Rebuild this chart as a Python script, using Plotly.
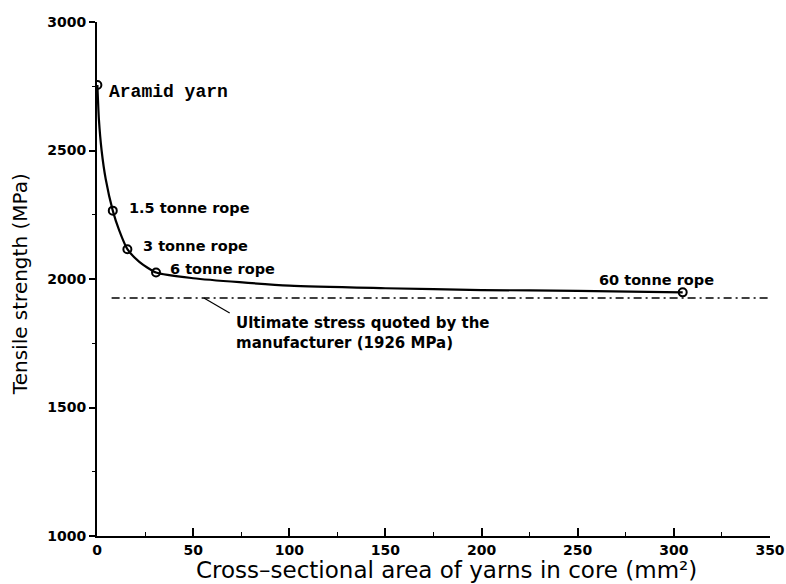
import plotly.graph_objects as go

# Tensile strength against core cross-sectional area
curve_area = [0.2, 1.0, 2.4, 4.5, 8.2, 11.5, 15.8, 22, 30.7, 50, 100, 150, 200, 250, 304.6]
curve_strength = [2755, 2620, 2500, 2390, 2266, 2190, 2116, 2067, 2025, 2003, 1974, 1964, 1957, 1954, 1948]

point_names = ["Aramid yarn", "1.5 tonne rope", "3 tonne rope", "6 tonne rope", "60 tonne rope"]
point_area = [0.2, 8.2, 15.8, 30.7, 304.6]
point_strength = [2755, 2266, 2116, 2025, 1948]

ultimate_stress = 1926
ultimate_span = [7.6, 352.4]

x_ticks = [0, 50, 100, 150, 200, 250, 300, 350]
y_ticks = [1000, 1500, 2000, 2500, 3000]

SANS = "DejaVu Sans"
MONO = "Liberation Mono"

fig = go.Figure()

fig.add_trace(go.Scatter(
    x=curve_area, y=curve_strength, mode="lines",
    line=dict(color="black", width=2.2, shape="spline", smoothing=0.6),
    hoverinfo="skip", showlegend=False,
))

fig.add_trace(go.Scatter(
    x=ultimate_span, y=[ultimate_stress, ultimate_stress], mode="lines",
    line=dict(color="black", width=1.6, dash="8px,4px,2px,4px"),
    showlegend=False,
))

fig.add_trace(go.Scatter(
    x=point_area, y=point_strength, mode="markers",
    marker=dict(symbol="circle-open", size=8, color="black", line=dict(width=2)),
    showlegend=False,
))

# point labels: (x shift, y shift downward) in pixels
label_offsets = {
    "Aramid yarn": (10, 7),
    "1.5 tonne rope": (14, -3),
    "3 tonne rope": (14, -3),
    "6 tonne rope": (12, -4),
    "60 tonne rope": (-86, -12),
}
for name, xa, ya in zip(point_names, point_area, point_strength):
    dx, dy = label_offsets[name]
    is_mono = name == "Aramid yarn"
    fig.add_annotation(
        x=xa, y=ya, text=name, showarrow=False,
        xanchor="left", yanchor="middle", xshift=dx, yshift=-dy,
        font=dict(family=MONO if is_mono else SANS,
                  size=18 if is_mono else 14.5,
                  color="black", weight="bold"),
    )

# ultimate stress note with leader
fig.add_shape(type="line", x0=55.6, y0=ultimate_stress, x1=69.0, y1=1868,
              line=dict(color="black", width=1.2))
fig.add_annotation(
    x=71.5, y=1870, text="Ultimate stress quoted by the<br>manufacturer (1926 MPa)",
    showarrow=False, xanchor="left", yanchor="top", align="left",
    font=dict(family=SANS, size=15, color="black", weight="bold"),
)

# axis titles
fig.add_annotation(
    xref="paper", yref="paper", x=0.5186, y=-0.066,
    text="Cross\u2013sectional area of yarns in core (mm\u00b2)",
    showarrow=False, xanchor="center", yanchor="middle",
    font=dict(family=SANS, size=23, color="black"),
)
fig.add_annotation(
    xref="paper", yref="paper", x=-0.1144, y=0.49,
    text="Tensile strength (MPa)", textangle=-90,
    showarrow=False, xanchor="center", yanchor="middle",
    font=dict(family=SANS, size=20, color="black"),
)

fig.update_layout(
    width=786, height=584,
    margin=dict(l=97, r=16, t=22, b=48),
    paper_bgcolor="white", plot_bgcolor="white",
    showlegend=False,
)

fig.update_xaxes(
    range=[0, 350], tickvals=x_ticks, showgrid=False, zeroline=False,
    automargin=False,
    showline=True, linecolor="black", linewidth=2,
    ticks="inside", ticklen=8, tickwidth=1.5, tickcolor="black",
    minor=dict(dtick=25, ticks="inside", ticklen=4, tickwidth=1, tickcolor="black"),
    tickfont=dict(family=SANS, size=14, color="black", weight="bold"),
)
fig.update_yaxes(
    range=[1000, 3000], tickvals=y_ticks, showgrid=False, zeroline=False,
    automargin=False,
    showline=True, linecolor="black", linewidth=2,
    ticks="outside", ticklen=6, tickwidth=1.5, tickcolor="black",
    minor=dict(dtick=250, ticks="outside", ticklen=3, tickwidth=1, tickcolor="black"),
    tickfont=dict(family=SANS, size=14, color="black", weight="bold"),
)

fig.write_html("out.html")
